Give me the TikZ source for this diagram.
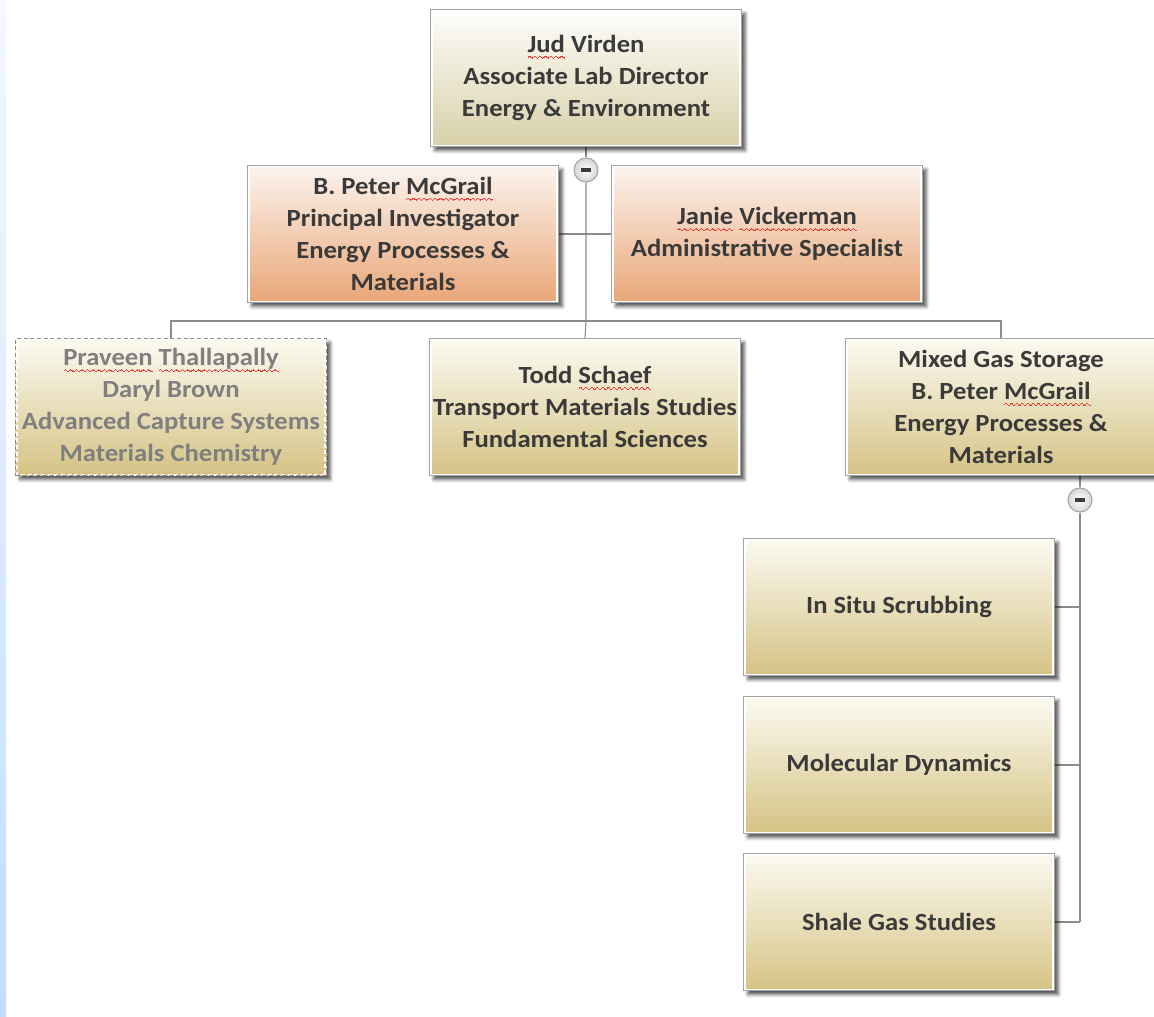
\documentclass[tikz,border=0pt]{standalone}
\usepackage{fontspec}
\setmainfont{Carlito}[FakeStretch=1.08]
\usepackage{xcolor}
\usetikzlibrary{positioning,calc,shadows.blur,backgrounds}
\definecolor{ink}     {HTML}{3A3A3A}
\definecolor{inkLt}   {HTML}{7F7F7F}
\definecolor{boxline} {HTML}{A3A3A3}
\definecolor{wire}    {HTML}{8C8C8C}
\definecolor{squig}   {HTML}{E8413C}
\definecolor{headTop} {HTML}{FEFEFC}
\definecolor{headBot} {HTML}{D8D0A8}
\definecolor{goldTop} {HTML}{FCFAF2}
\definecolor{goldBot} {HTML}{D5C384}
\definecolor{peachTop}{HTML}{FCF4EF}
\definecolor{peachBot}{HTML}{E9A676}
\definecolor{foldBg}  {HTML}{D6D6D6}
\definecolor{stripTop}{HTML}{F4F8FF}
\definecolor{stripBot}{HTML}{C2DDFF}
% red spell-check wave under a word
\newcommand{\wavebit}{\hbox{{\color{squig}\rule{.5pt}{.5pt}\rule[.4pt]{.5pt}{.5pt}\rule[.7pt]{.5pt}{.5pt}%
  \rule[.4pt]{.5pt}{.5pt}\rule{.5pt}{.5pt}\rule[-.4pt]{.5pt}{.5pt}\rule[-.7pt]{.5pt}{.5pt}\rule[-.4pt]{.5pt}{.5pt}}}}
\newcommand{\spell}[1]{\setbox0\hbox{#1}%
  \rlap{\raisebox{-3.8pt}[0pt][0pt]{\hbox to \wd0{\xleaders\wavebit\hfil}}}\box0\relax}

\begin{document}
\begin{tikzpicture}[x=0.75pt, y=-0.75pt,
    box/.style={draw=boxline, line width=0.8pt, minimum width=233pt, minimum height=103pt,
      inner sep=2pt, align=center, text=ink, font=\fontsize{18.5}{24}\selectfont\bfseries,
      blur shadow={shadow xshift=3pt, shadow yshift=-3pt, shadow blur radius=2.5pt, shadow opacity=65},
      path picture={\draw[white, line width=3pt] (path picture bounding box.south west)
        rectangle (path picture bounding box.north east);}},
    head/.style={box, top color=headTop, bottom color=headBot},
    gold/.style={box, top color=goldTop, bottom color=goldBot},
    peach/.style={box, top color=peachTop, bottom color=peachBot},
    wire/.style={draw=wire, line width=0.8pt},
    fold/.style={circle, draw=boxline, line width=0.8pt, inner color=white, outer color=foldBg,
      minimum size=18pt, inner sep=0pt}]
  \useasboundingbox (0,0) rectangle (1154,1017);
  \clip (0,0) rectangle (1154,1017);
  \fill[top color=stripTop, bottom color=stripBot] (0,0) rectangle (6,1017);

  % director and staff
  \node[head] (dir) at (586,78) {\spell{Jud} Virden\\Associate Lab Director\\Energy \& Environment};
  \node[peach] (pi) at (403,234) {B. Peter \spell{McGrail}\\Principal Investigator\\Energy Processes \&\\Materials};
  \node[peach] (admin) at (767,234) {\spell{Janie} \spell{Vickerman}\\Administrative Specialist};
  \node[fold] (dirfold) at (586,170) {\color{ink}\rule[-1.2pt]{7pt}{2.4pt}};

  % groups
  \node[gold, draw=wire, dash pattern=on 3pt off 2pt, text=inkLt] (acs) at (171,407)
       {\spell{Praveen} \spell{Thallapally}\\Daryl Brown\\Advanced Capture Systems\\Materials Chemistry};
  \node[gold] (tms) at (585,407) {Todd \spell{Schaef}\\Transport Materials Studies\\Fundamental Sciences};
  \node[gold] (mgs) at (1001,407) {Mixed Gas Storage\\B. Peter \spell{McGrail}\\Energy Processes \&\\Materials};
  \node[fold] (mgsfold) at (1080,500) {\color{ink}\rule[-1.2pt]{7pt}{2.4pt}};

  % projects under mixed gas storage
  \foreach \n/\y/\t in {situ/607/In Situ Scrubbing, md/765/Molecular Dynamics, shale/922/Shale Gas Studies}{
    \node[gold] (\n) at (899,\y) {\t};
  }

  \coordinate (bus) at (586,321);
  \begin{scope}[on background layer]
    \draw[wire] (dir.south -| dirfold) -- (dirfold.north);
    \draw[wire] (dirfold.south) -- (bus) -- (tms.north);
    \draw[wire] (pi.east) -- (admin.west);
    \draw[wire] (acs.north) -- (acs.north |- bus) -- (mgs.north |- bus) -- (mgs.north);
    \draw[wire] (mgs.south -| mgsfold) -- (mgsfold.north);
    \draw[wire] (mgsfold.south) -- (mgsfold.south |- shale.east);
    \foreach \n in {situ,md,shale}{ \draw[wire] (\n.east) -- (\n.east -| mgsfold); }
  \end{scope}
\end{tikzpicture}
\end{document}
